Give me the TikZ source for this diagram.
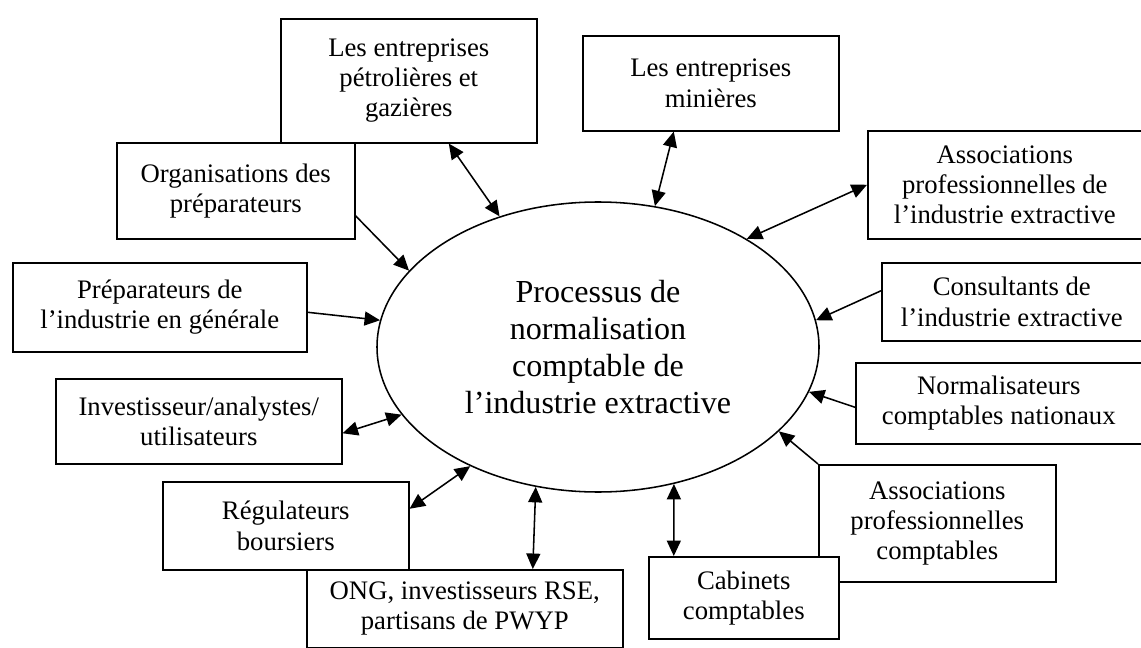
\documentclass[tikz,border=0pt]{standalone}
\usepackage{fontspec}
\setmainfont{Liberation Serif}
\usetikzlibrary{arrows.meta,shapes.geometric,calc}

\newcommand{\boxfont}{\fontsize{19}{21.5}\selectfont}
\newcommand{\procfont}{\fontsize{22.8}{26.3}\selectfont}

\begin{document}
\begin{tikzpicture}[x=0.025cm,y=-0.025cm,line width=1.1pt,
  >={Triangle[length=11pt,width=10pt]},
  actor/.style 2 args={draw,fill=white,align=center,inner sep=0pt,anchor=north west,
    minimum width=#1*0.025cm,minimum height=#2*0.025cm,font=\boxfont},
  proc/.style={draw,ellipse,align=center,inner sep=0pt,
    minimum width=442*0.025cm,minimum height=290*0.025cm,font=\procfont}]

\useasboundingbox (0,0) rectangle (1141,648);

\node[proc](proc) at (598,347){Processus de\\normalisation\\comptable de\\l’industrie extractive};

\node[actor={256}{124}](pet) at (280,18){Les entreprises\\pétrolières et\\gazières};
\node[actor={238}{96}](org) at (116,142){Organisations des\\préparateurs};
\node[actor={256}{95}](mines) at (582,35){Les entreprises\\minières};
\node[actor={274}{108}](assie) at (867,130){Associations\\professionnelles de\\l’industrie extractive};
\node[actor={260}{78}](cons) at (881,262){Consultants de\\l’industrie extractive};
\node[actor={286}{81}](norm) at (855,362){Normalisateurs\\comptables nationaux};
\node[actor={237}{117}](assc) at (818,464){Associations\\professionnelles\\comptables};
\node[actor={190}{82}](cab) at (648,556){Cabinets\\comptables};
\node[actor={246}{88}](reg) at (162,481){Régulateurs\\boursiers};
\node[actor={316}{78}](ong) at (306,569){ONG, investisseurs RSE,\\partisans de PWYP};
\node[actor={286}{85}](inv) at (55,378){Investisseur/analystes/\\utilisateurs};
\node[actor={294}{89}](prep) at (12,262){Préparateurs de\\l’industrie en générale};

\draw[<->]($(pet.south)+(40,0)$)--(proc.127.8);
\draw[<->]($(mines.south)+(-37,0)$)--(proc.68.6);
\draw[<->](assie.west)--(proc.36.2);
\draw[->]($(cons.west)+(0,-11)$)--(proc.7.2);
\draw[->]($(norm.west)+(0,4)$)--(proc.-12.7);
\draw[->](assc.north west)--(proc.-25.4);
\draw[<->]($(cab.north)+(-70,0)$)--(proc.-61.2);
\draw[<->]($(ong.north)+(68,0)$)--(proc.-114.4);
\draw[<->]($(reg.east)+(0,-17)$)--(proc.-137.9);
\draw[<->]($(inv.east)+(0,12)$)--(proc.-161.8);
\draw[->]($(prep.east)+(0,5)$)--(proc.173.3);
\draw[->]($(org.east)+(0,25)$)--(proc.158.9);

\end{tikzpicture}
\end{document}
